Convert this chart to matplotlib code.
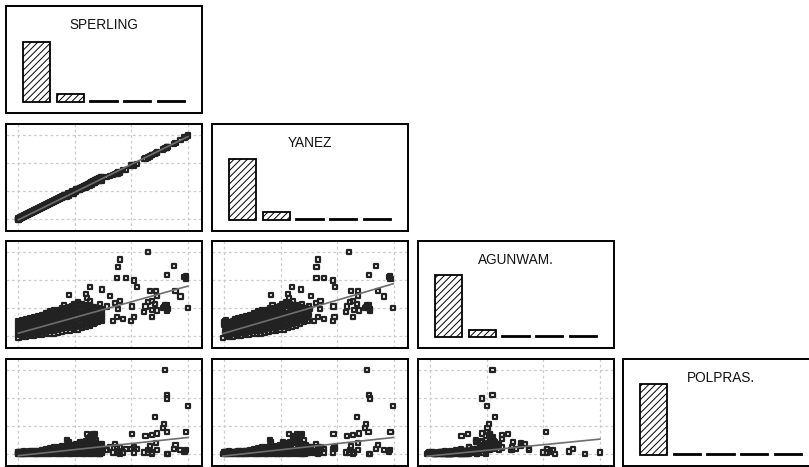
import numpy as np
import matplotlib.pyplot as plt

plt.rcParams['font.family'] = ['Liberation Sans', 'DejaVu Sans']
plt.rcParams['hatch.linewidth'] = 0.7

names = ['SPERLING', 'YANEZ', 'AGUNWAM.', 'POLPRAS.']

# histogram bar heights (percent of cases, 5 bins)
hist_sperling = [82.0, 10.3, 1.2, 1.2, 1.2]
hist_yanez = [83.3, 11.4, 1.2, 1.2, 1.2]
hist_agunwam = [84.5, 10.0, 1.2, 1.2, 1.2]
hist_polpras = [97.0, 1.0, 1.0, 1.0, 1.0]

# dense cluster near the origin: 43 SPERLING values, 5 cases each
cluster_sperling = [0.000, 0.035, 0.070, 0.105, 0.140, 0.175, 0.210, 0.245, 0.280, 0.315,
                    0.350, 0.385, 0.420, 0.455, 0.490, 0.525, 0.560, 0.595, 0.630, 0.665,
                    0.700, 0.735, 0.770, 0.805, 0.840, 0.875, 0.910, 0.945, 0.980, 1.015,
                    1.050, 1.085, 1.120, 1.155, 1.190, 1.225, 1.260, 1.295, 1.330, 1.365,
                    1.400, 1.435, 1.470]
cluster_yanez = [
    [-0.03, 0.01, 0.04, -0.01, 0.02], [0.05, 0.01, 0.03, 0.07, 0.00],
    [0.08, 0.04, 0.10, 0.06, 0.03], [0.10, 0.13, 0.08, 0.12, 0.15],
    [0.15, 0.11, 0.17, 0.13, 0.18], [0.17, 0.20, 0.15, 0.19, 0.22],
    [0.22, 0.19, 0.24, 0.20, 0.25], [0.24, 0.27, 0.22, 0.26, 0.29],
    [0.29, 0.26, 0.31, 0.27, 0.32], [0.31, 0.34, 0.29, 0.33, 0.36],
    [0.36, 0.33, 0.38, 0.34, 0.39], [0.38, 0.41, 0.36, 0.40, 0.43],
    [0.43, 0.40, 0.45, 0.41, 0.46], [0.45, 0.48, 0.43, 0.47, 0.50],
    [0.50, 0.47, 0.52, 0.48, 0.53], [0.52, 0.55, 0.50, 0.54, 0.57],
    [0.57, 0.54, 0.59, 0.55, 0.60], [0.59, 0.62, 0.57, 0.61, 0.64],
    [0.64, 0.61, 0.66, 0.62, 0.67], [0.66, 0.69, 0.64, 0.68, 0.71],
    [0.71, 0.68, 0.73, 0.69, 0.74], [0.73, 0.76, 0.71, 0.75, 0.78],
    [0.78, 0.75, 0.80, 0.76, 0.81], [0.80, 0.83, 0.78, 0.82, 0.85],
    [0.85, 0.82, 0.87, 0.83, 0.88], [0.87, 0.90, 0.85, 0.89, 0.92],
    [0.92, 0.89, 0.94, 0.90, 0.95], [0.94, 0.97, 0.92, 0.96, 0.99],
    [0.99, 0.96, 1.01, 0.97, 1.02], [1.01, 1.04, 0.99, 1.03, 1.06],
    [1.06, 1.03, 1.08, 1.04, 1.09], [1.08, 1.11, 1.06, 1.10, 1.13],
    [1.13, 1.10, 1.15, 1.11, 1.16], [1.15, 1.18, 1.13, 1.17, 1.20],
    [1.20, 1.17, 1.22, 1.18, 1.23], [1.22, 1.25, 1.20, 1.24, 1.27],
    [1.27, 1.24, 1.29, 1.25, 1.30], [1.29, 1.32, 1.27, 1.31, 1.34],
    [1.34, 1.31, 1.36, 1.32, 1.37], [1.36, 1.39, 1.34, 1.38, 1.41],
    [1.41, 1.38, 1.43, 1.39, 1.44], [1.43, 1.46, 1.41, 1.45, 1.48],
    [1.48, 1.45, 1.50, 1.46, 1.51]]
cluster_agunwam = [
    [-0.06, 0.09, 0.24, 0.39, 0.54], [0.03, 0.18, 0.33, 0.48, 0.52],
    [-0.04, 0.11, 0.27, 0.42, 0.57], [0.05, 0.20, 0.36, 0.51, 0.55],
    [-0.02, 0.14, 0.29, 0.45, 0.60], [0.07, 0.23, 0.38, 0.54, 0.58],
    [0.00, 0.16, 0.32, 0.48, 0.64], [0.09, 0.25, 0.42, 0.58, 0.62],
    [0.02, 0.19, 0.35, 0.52, 0.68], [0.11, 0.28, 0.45, 0.62, 0.66],
    [0.03, 0.20, 0.38, 0.55, 0.72], [0.13, 0.30, 0.48, 0.65, 0.70],
    [0.05, 0.23, 0.41, 0.58, 0.76], [0.15, 0.33, 0.52, 0.70, 0.75],
    [0.07, 0.26, 0.45, 0.63, 0.82], [0.18, 0.37, 0.57, 0.76, 0.82],
    [0.08, 0.29, 0.49, 0.70, 0.90], [0.19, 0.40, 0.60, 0.81, 0.87],
    [0.10, 0.31, 0.51, 0.72, 0.92], [0.21, 0.42, 0.63, 0.84, 0.90],
    [0.13, 0.34, 0.54, 0.75, 0.95], [0.25, 0.46, 0.67, 0.88, 0.94],
    [0.17, 0.38, 0.59, 0.80, 1.00], [0.29, 0.50, 0.71, 0.92, 1.10],
    [0.19, 0.39, 0.60, 0.80, 1.00], [0.30, 0.51, 0.72, 0.93, 0.99],
    [0.20, 0.41, 0.63, 0.84, 1.05], [0.32, 0.54, 0.77, 0.99, 1.06],
    [0.22, 0.45, 0.69, 0.92, 1.15], [0.35, 0.59, 0.82, 1.06, 1.14],
    [0.24, 0.48, 0.73, 0.97, 1.21], [0.38, 0.61, 0.84, 1.07, 1.14],
    [0.28, 0.50, 0.72, 0.93, 1.15], [0.40, 0.61, 0.82, 1.03, 1.09],
    [0.32, 0.52, 0.72, 0.92, 1.12], [0.45, 0.64, 0.83, 1.02, 1.07],
    [0.38, 0.56, 0.74, 0.92, 1.10], [0.49, 0.66, 0.83, 0.99, 1.04],
    [0.45, 0.60, 0.75, 0.90, 1.05], [0.55, 0.68, 0.82, 0.95, 0.98],
    [0.52, 0.64, 0.76, 0.88, 1.00], [0.60, 0.71, 0.82, 0.93, 0.95],
    [0.56, 0.67, 0.77, 0.88, 0.98]]
cluster_polpras = [
    [0.00, 0.04, 0.08, 0.02, 0.06], [0.03, 0.07, 0.01, 0.05, 0.09],
    [0.05, 0.00, 0.04, 0.08, 0.02], [0.02, 0.06, 0.10, 0.00, 0.04],
    [0.07, 0.03, 0.00, 0.05, 0.09], [0.01, 0.05, 0.09, 0.03, 0.07],
    [0.04, 0.08, 0.02, 0.06, 0.10], [0.00, 0.03, 0.07, 0.10, 0.05],
    [0.06, 0.01, 0.04, 0.08, 0.12], [0.02, 0.07, 0.05, 0.00, 0.10],
    [0.04, 0.00, 0.09, 0.06, 0.13], [0.01, 0.05, 0.03, 0.10, 0.08],
    [0.06, 0.02, 0.08, 0.12, 0.15], [0.03, 0.07, 0.00, 0.10, 0.14],
    [0.00, 0.05, 0.09, 0.13, 0.18], [0.05, 0.02, 0.07, 0.16, 0.11],
    [0.02, 0.08, 0.04, 0.12, 0.22], [0.06, 0.00, 0.10, 0.18, 0.14],
    [0.03, 0.07, 0.12, 0.09, 0.24], [0.00, 0.05, 0.08, 0.20, 0.16],
    [0.04, 0.09, 0.02, 0.14, 0.26], [0.01, 0.06, 0.11, 0.22, 0.18],
    [0.05, 0.00, 0.08, 0.16, 0.30], [0.02, 0.07, 0.13, 0.24, 0.20],
    [0.06, 0.03, 0.10, 0.18, 0.28], [0.00, 0.05, 0.12, 0.26, 0.22],
    [0.04, 0.08, 0.02, 0.16, 0.30], [0.01, 0.06, 0.14, 0.24, 0.34],
    [0.05, 0.10, 0.03, 0.20, 0.32], [0.02, 0.07, 0.12, 0.28, 0.38],
    [0.06, 0.00, 0.09, 0.18, 0.36], [0.03, 0.08, 0.14, 0.30, 0.40],
    [0.00, 0.05, 0.11, 0.22, 0.42], [0.04, 0.09, 0.02, 0.26, 0.44],
    [0.01, 0.06, 0.13, 0.34, 0.46], [0.05, 0.10, 0.03, 0.40, 0.56],
    [0.02, 0.07, 0.16, 0.48, 0.62], [0.06, 0.00, 0.12, 0.36, 0.68],
    [0.03, 0.08, 0.18, 0.42, 0.72], [0.00, 0.05, 0.10, 0.28, 0.50],
    [0.04, 0.09, 0.14, 0.22, 0.32], [0.01, 0.06, 0.02, 0.18, 0.26],
    [0.05, 0.10, 0.03, 0.14, 0.24]]

# scattered cases outside the cluster
outlier_sperling = [2.29, 1.80, 1.77, 1.74, 1.91, 2.04, 2.10, 2.76, 2.63, 2.97, 2.94, 1.27,
                    1.48, 0.90, 1.22, 1.27, 1.62, 1.80, 1.71, 1.45, 1.57, 2.33, 2.44, 2.45,
                    2.78, 2.87, 2.36, 2.30, 2.42, 2.25, 2.23, 2.36, 2.45, 2.60, 2.63, 2.63,
                    2.57, 2.56, 2.63, 3.00, 2.36, 2.01, 1.77, 1.74, 1.85, 2.04, 2.00, 1.67,
                    1.45, 1.35, 1.09, 0.86, 0.98, 2.65, 2.96, 1.19, 1.30, 1.36]
outlier_yanez = [2.20, 1.66, 1.63, 1.63, 1.76, 1.92, 1.96, 2.69, 2.56, 2.94, 2.92, 1.20,
                 1.36, 0.83, 1.14, 1.21, 1.54, 1.70, 1.62, 1.37, 1.50, 2.24, 2.36, 2.37,
                 2.72, 2.82, 2.28, 2.22, 2.34, 2.17, 2.15, 2.29, 2.38, 2.53, 2.56, 2.57,
                 2.50, 2.49, 2.55, 2.99, 2.28, 1.93, 1.69, 1.65, 1.76, 1.95, 1.92, 1.59,
                 1.38, 1.28, 1.03, 0.80, 0.92, 2.58, 2.93, 1.12, 1.23, 1.29]
outlier_agunwam = [3.00, 2.74, 2.46, 2.07, 2.07, 1.99, 1.75, 2.52, 2.20, 2.05, 2.12, 1.75,
                   1.67, 1.46, 1.37, 1.27, 1.45, 1.27, 1.18, 1.15, 1.06, 1.61, 1.61, 1.45,
                   1.61, 1.42, 1.27, 1.22, 1.15, 1.06, 0.86, 0.94, 0.92, 1.10, 1.10, 0.91,
                   1.04, 1.01, 1.00, 1.00, 0.68, 1.06, 0.98, 0.68, 0.62, 0.68, 0.54, 0.54,
                   0.54, 0.46, 0.80, 0.80, 0.26, 0.98, 2.16, 1.52, 0.55, 0.67]
outlier_polpras = [0.06, 0.00, 0.10, 0.06, 0.18, 0.06, 0.18, 0.18, 0.00, 0.79, 0.09, 0.14,
                   0.36, 0.45, 0.73, 0.53, 0.24, 0.24, 0.38, 0.36, 0.14, 0.30, 0.39, 0.14,
                   0.33, 0.14, 0.69, 0.14, 1.33, 0.65, 0.06, 0.06, 0.74, 3.00, 2.10, 1.99,
                   1.07, 0.93, 0.79, 1.72, 0.00, 0.71, 0.06, 0.24, 0.06, 0.24, 0.18, 0.06,
                   0.00, 0.14, 0.45, 0.50, 0.10, 0.00, 0.14, 0.20, 0.65, 0.73]

# fitted lines (intercept, slope)
fit_pairs = [(1, 0), (2, 0), (2, 1), (3, 0), (3, 1), (3, 2)]
fit_intercepts = [-0.02, 0.11, 0.11, -0.05, -0.06, -0.06]
fit_slopes = [0.99, 0.56, 0.59, 0.216, 0.22, 0.20]

sperling = np.concatenate([np.repeat(cluster_sperling, 5), outlier_sperling])
yanez = np.concatenate([np.ravel(cluster_yanez), outlier_yanez])
agunwam = np.concatenate([np.ravel(cluster_agunwam), outlier_agunwam])
polpras = np.concatenate([np.ravel(cluster_polpras), outlier_polpras])
data = [sperling, yanez, agunwam, polpras]
hists = [hist_sperling, hist_yanez, hist_agunwam, hist_polpras]

W, H = 809, 467
fig = plt.figure(figsize=(W / 100, H / 100), dpi=100)
col_left = [6, 212, 418, 623]
row_top = [6, 124, 241, 359]
pw, ph = 196, 107

for i in range(4):
    for j in range(i + 1):
        ax = fig.add_axes([col_left[j] / W, 1 - (row_top[i] + ph) / H, pw / W, ph / H])
        for sp in ax.spines.values():
            sp.set_linewidth(1.4)
            sp.set_color('black')
        ax.tick_params(length=0, labelbottom=False, labelleft=False)
        if i == j:
            ax.bar(range(5), hists[i], width=0.8, color='white', edgecolor='black',
                   linewidth=1.3, hatch='/////')
            ax.set_xlim(-0.9, 4.9)
            ax.set_ylim(-15.1, 131.7)
            ax.set_xticks([])
            ax.set_yticks([])
            ax.text(0.5, 1 - 19 / ph, names[i], transform=ax.transAxes,
                    ha='center', va='center', fontsize=9.8, color='#111111')
        else:
            x, y = data[j], data[i]
            ax.set_axisbelow(True)
            ax.grid(True, color='#cccccc', linestyle=(0, (2.2, 2.2)), linewidth=0.9)
            ax.scatter(x, y, s=9, marker='s', facecolors='none',
                       edgecolors='#222222', linewidths=1.6, zorder=2)
            k = fit_pairs.index((i, j))
            xs = np.array([x.min(), x.max()])
            ax.plot(xs, fit_intercepts[k] + fit_slopes[k] * xs, color='#6e6e6e',
                    linewidth=1.2, zorder=3)
            ax.set_xticks([0, 1, 2, 3])
            ax.set_yticks([0, 1, 2, 3])
            ax.set_xlim(-0.22, 3.25)
            ax.set_ylim(-0.42, 3.40)

fig.savefig('out.png', dpi=100)
